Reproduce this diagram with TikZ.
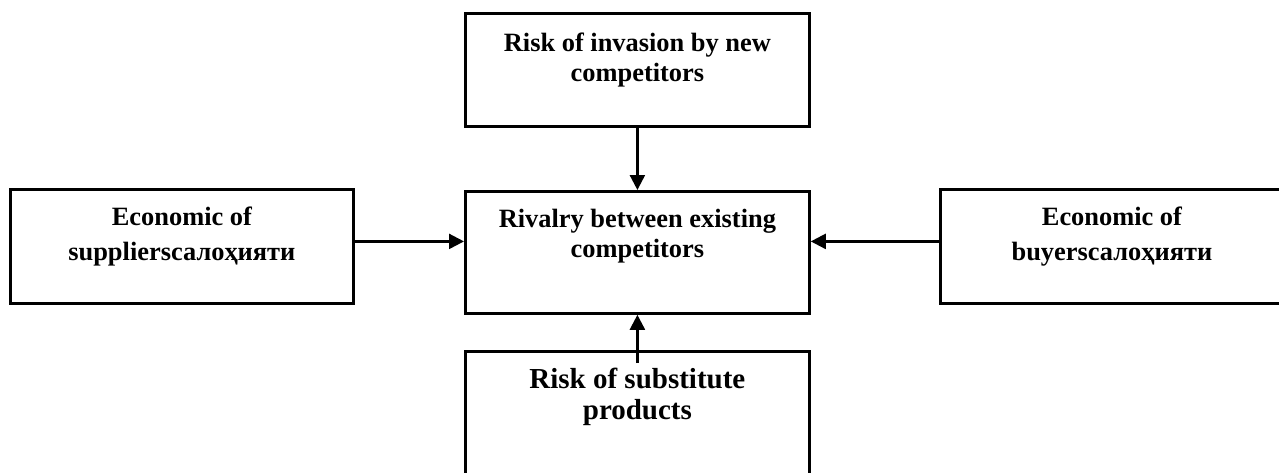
\documentclass[tikz,border=0pt]{standalone}
\usepackage{fontspec}
\setmainfont{Liberation Serif}
\usetikzlibrary{arrows.meta}
\tikzset{box/.style={draw, line width=2.8pt, inner sep=0pt, anchor=north west},
	arr/.style={line width=2.4pt, -{Triangle[length=15pt,width=15pt]}}}
% text cell: width, height, text
\newcommand{\cell}[3]{\parbox[t][#2][t]{#1}{\centering #3}}
\newcommand{\txt}[2]{\fontsize{#1}{#2}\selectfont\bfseries}

\begin{document}
\begin{tikzpicture}[x=1pt, y=-1pt]
		\useasboundingbox (0,0) rectangle (1279,472);
		\node(rival)[box] at (464,190){\cell{344pt}{122pt}{\txt{26.4}{30}\rule{0pt}{36pt}Rivalry between existing\\competitors}};
		\node(invasion)[box] at (464,12){\cell{344pt}{113pt}{\txt{26.4}{30}\rule{0pt}{38pt}Risk of invasion by new\\competitors}};
		\node(suppliers)[box] at (9,188){\cell{343pt}{114pt}{\txt{26.4}{35}\rule{0pt}{36pt}Economic of\\suppliersсалоҳияти}};
		\node(buyers)[box] at (939,188){\cell{343pt}{114pt}{\txt{26.4}{35}\rule{0pt}{36pt}Economic of\\buyersсалоҳияти}};
		\node(substitute)[box] at (464,350){\cell{344pt}{125pt}{\txt{29}{31.5}\rule{0pt}{37pt}Risk of substitute\\products}};
		\coordinate(subtail) at ([yshift=-13pt]substitute.north);
		\draw[arr](invasion) to (rival);
		\draw[arr]([yshift=5pt]suppliers.east) to ([yshift=5pt]suppliers.east -| rival.west);
		\draw[arr]([yshift=5pt]buyers.west) to ([yshift=5pt]buyers.west -| rival.east);
		\draw[arr](subtail) to (rival.south);
	\end{tikzpicture}
\end{document}
